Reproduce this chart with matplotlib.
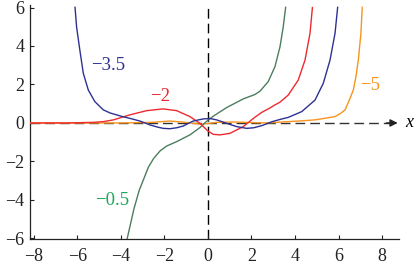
import numpy as np
import matplotlib
matplotlib.use("Agg")
import matplotlib.pyplot as plt

# curve samples (label -> x, y)
blue_x = [-6.11, -6.04, -5.89, -5.73, -5.5, -5.2, -4.81, -4.5, -4.2, -3.89, -3.59, -3.13,
          -2.67, -2.3, -2.06, -1.75, -1.44, -1.14, -0.68, -0.22, 0.1, 0.4, 0.86, 1.32,
          1.78, 2.1, 2.47, 2.93, 3.3, 3.69, 4.31, 4.92, 5.3, 5.61, 5.84, 5.96]
blue_y = [6.01, 5.0, 3.79, 2.58, 1.71, 1.11, 0.68, 0.52, 0.42, 0.32, 0.24, 0.1,
          -0.10, -0.22, -0.28, -0.30, -0.25, -0.16, 0.10, 0.21, 0.23, 0.16, -0.02, -0.19,
          -0.28, -0.25, -0.14, 0.06, 0.18, 0.29, 0.59, 1.19, 2.06, 3.27, 4.66, 6.01]

red_x = [-8.2, -6.5, -5.3, -4.8, -4.35, -3.59, -2.82, -2.06, -1.44, -0.83, -0.37, 0.0,
         0.24, 0.55, 1.01, 1.62, 2.16, 2.47, 2.85, 3.08, 3.31, 3.69, 4.15, 4.46, 4.69, 4.8]
red_y = [0.0, 0.0, 0.03, 0.07, 0.16, 0.42, 0.64, 0.73, 0.64, 0.33, -0.02, -0.42,
         -0.59, -0.62, -0.54, -0.19, 0.3, 0.55, 0.78, 0.94, 1.08, 1.45, 2.23, 3.27, 4.66, 6.0]

green_x = [-3.72, -3.6, -3.4, -3.16, -2.97, -2.74, -2.5, -2.2, -1.9, -1.44, -0.83, -0.37,
           -0.1, 0.24, 0.86, 1.62, 2.16, 2.39, 2.77, 3.08, 3.31, 3.46, 3.57]
green_y = [-6.04, -5.45, -4.45, -3.5, -2.96, -2.3, -1.85, -1.45, -1.2, -0.97, -0.62, -0.24,
           0.05, 0.35, 0.8, 1.25, 1.48, 1.65, 2.15, 2.93, 3.96, 5.0, 6.01]

orange_x = [-8.2, -4.0, -2.6, -1.75, -1.0, -0.3, 0.4, 1.2, 2.0, 2.7, 3.4, 3.69, 4.3,
            4.92, 5.46, 5.84, 6.1, 6.3, 6.5, 6.68, 6.8, 6.91, 7.03, 7.09]
orange_y = [0.0, 0.0, 0.03, 0.10, 0.03, -0.07, 0.03, 0.05, 0.02, 0.0, 0.05, 0.07, 0.11,
            0.16, 0.26, 0.33, 0.5, 0.68, 1.2, 1.71, 2.4, 3.27, 4.66, 6.01]

x_ticks = [-8, -6, -4, -2, 0, 2, 4, 6, 8]
y_ticks = [-6, -4, -2, 0, 2, 4, 6]

BLUE = "#2d3192"
RED = "#ed2a2f"
GREEN = "#4b7d5e"
GREEN_TXT = "#1ea65a"
ORANGE = "#f7941d"

plt.rcParams["font.family"] = ["Liberation Serif", "DejaVu Serif"]

fig = plt.figure(figsize=(4.15, 2.64), dpi=100)
ax = fig.add_axes([30 / 415, 25 / 264, 369 / 415, 234 / 264])
ax.set_xlim(-8.18, 8.78)
ax.set_ylim(-6.03, 6.13)

# dashed axes through the origin
ax.axvline(0, color="black", lw=1, ls=(0, (7, 3.6)), zorder=1)
ax.plot([-8.18, 8.55], [0, 0], color="#333333", lw=1, ls=(0, (7, 3.6)), zorder=1)
ax.annotate("", xy=(8.72, 0), xytext=(8.2, 0),
            arrowprops=dict(arrowstyle="-|>", color="#222222", lw=1,
                            mutation_scale=11, shrinkA=0, shrinkB=0))
ax.text(9.24, 0, "x", fontsize=13, style="italic", ha="center", va="center",
        clip_on=False)

ax.plot(orange_x, orange_y, color=ORANGE, lw=1, zorder=3)
ax.plot(green_x, green_y, color=GREEN, lw=1, zorder=3)
ax.plot(red_x, red_y, color=RED, lw=1, zorder=3)
ax.plot(blue_x, blue_y, color=BLUE, lw=1, zorder=3)

ax.text(-4.6, 3.0, "\u22123.5", color=BLUE, fontsize=13.5, ha="center", va="center")
ax.text(-2.2, 1.35, "\u22122", color=RED, fontsize=13.5, ha="center", va="center")
ax.text(7.45, 1.97, "\u22125", color=ORANGE, fontsize=13.5, ha="center", va="center")
ax.text(-4.41, -4.05, "\u22120.5", color=GREEN_TXT, fontsize=13.5, ha="center", va="center")

ax.set_xticks(x_ticks)
ax.set_yticks(y_ticks)
ax.set_xticklabels([f"{t}".replace("-", "\u2212") for t in x_ticks])
ax.set_yticklabels([f"{t}".replace("-", "\u2212") for t in y_ticks])
ax.tick_params(direction="in", length=3, width=0.8, labelsize=13, colors="#222222")
ax.tick_params(axis="x", pad=6.5)
ax.tick_params(axis="y", pad=4)
ax.spines["top"].set_visible(False)
ax.spines["right"].set_visible(False)
for s in ["left", "bottom"]:
    ax.spines[s].set_linewidth(0.9)
    ax.spines[s].set_color("#222222")

fig.savefig("out.png", dpi=100)
